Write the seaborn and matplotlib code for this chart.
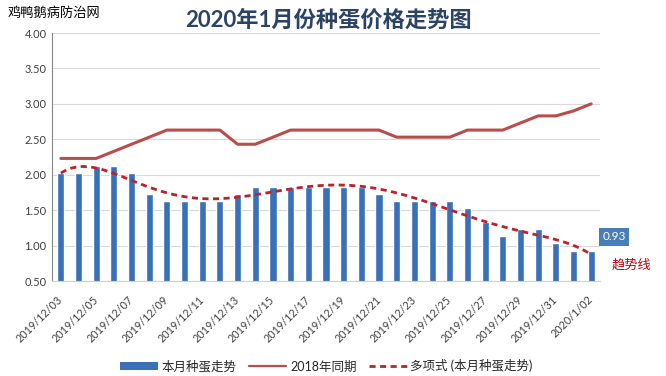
import numpy as np
import matplotlib
matplotlib.use('Agg')
import matplotlib.pyplot as plt
import seaborn as sns
from matplotlib.patches import Patch
from matplotlib.lines import Line2D

# data
dates = ['2019/12/03', '2019/12/04', '2019/12/05', '2019/12/06', '2019/12/07', '2019/12/08',
         '2019/12/09', '2019/12/10', '2019/12/11', '2019/12/12', '2019/12/13', '2019/12/14',
         '2019/12/15', '2019/12/16', '2019/12/17', '2019/12/18', '2019/12/19', '2019/12/20',
         '2019/12/21', '2019/12/22', '2019/12/23', '2019/12/24', '2019/12/25', '2019/12/26',
         '2019/12/27', '2019/12/28', '2019/12/29', '2019/12/30', '2019/12/31', '2020/1/01',
         '2020/1/02']
price_this_month = [2.03, 2.03, 2.13, 2.13, 2.03, 1.73, 1.63, 1.63, 1.63, 1.63, 1.73, 1.83,
                    1.83, 1.83, 1.83, 1.83, 1.83, 1.83, 1.73, 1.63, 1.63, 1.63, 1.63, 1.53,
                    1.33, 1.13, 1.23, 1.23, 1.03, 0.93, 0.93]
price_2018 = [2.23, 2.23, 2.23, 2.33, 2.43, 2.53, 2.63, 2.63, 2.63, 2.63, 2.43, 2.43,
              2.53, 2.63, 2.63, 2.63, 2.63, 2.63, 2.63, 2.53, 2.53, 2.53, 2.53, 2.63,
              2.63, 2.63, 2.73, 2.83, 2.83, 2.90, 3.00]

sns.set_style('white')
plt.rcParams['font.family'] = ['Lato', 'Noto Sans CJK SC', 'DejaVu Sans']

bar_color = '#3A70B8'
line_color = '#B84D4A'
trend_color = '#C0202A'
text_color = '#404040'

fig, ax = plt.subplots(figsize=(6.66, 3.76), dpi=100)
fig.subplots_adjust(left=52/666, right=600/666, top=1-33/376, bottom=1-281/376)

x = np.arange(len(dates))
sns.barplot(x=x, y=price_this_month, color=bar_color, width=0.4, saturation=1, ax=ax, zorder=2)
sns.lineplot(x=x, y=price_2018, color=line_color, lw=2.2, ax=ax, zorder=3)
# Excel polynomial trendline of this month's prices
sns.regplot(x=x, y=price_this_month, order=6, ci=None, scatter=False, truncate=True, ax=ax,
            line_kws=dict(color=trend_color, lw=2, dashes=(2.2, 1.6), zorder=4))

ax.set_xlim(-0.5, len(dates) - 0.5)
ax.set_ylim(0.5, 4.0)
ax.set_yticks(np.arange(0.5, 4.01, 0.5))
ax.set_yticklabels([f'{v:.2f}' for v in np.arange(0.5, 4.01, 0.5)], fontsize=8, color=text_color)
ax.set_xticks(x[::2])
ax.set_xticklabels(dates[::2], fontsize=7.8, color=text_color, rotation=45,
                   ha='right', va='center', rotation_mode='anchor')
ax.tick_params(axis='both', length=0, pad=4)
ax.tick_params(axis='x', pad=12)
ax.set_xlabel('')
ax.set_ylabel('')
ax.grid(axis='y', color='#D9D9D9', lw=0.8, zorder=0)
ax.set_axisbelow(True)
for s in ['top', 'right']:
    ax.spines[s].set_visible(False)
ax.spines['left'].set_color('#868686')
ax.spines['bottom'].set_color('#D0D0D0')

# value label on last bar
ax.annotate(f'{price_this_month[-1]:.2f}', xy=(x[-1], price_this_month[-1]), xytext=(8, 6),
            textcoords='offset points', fontsize=8.5, color='white', va='bottom', ha='left',
            bbox=dict(boxstyle='square,pad=0.3', fc='#4A7EBB', ec='none'), annotation_clip=False)
ax.annotate('趋势线', xy=(x[-1], price_this_month[-1]), xytext=(15, -10),
            textcoords='offset points', fontsize=9.5, color='#C00000', va='center', ha='left',
            annotation_clip=False)

fig.text(0.012, 0.967, '鸡鸭鹅病防治网', fontsize=9.5, color='black', va='center', ha='left')
fig.text(0.493, 0.947, '2020年1月份种蛋价格走势图', fontsize=16, fontweight='bold',
         color='#2B4466', va='center', ha='center')

handles = [Patch(facecolor=bar_color, edgecolor='none'),
           Line2D([], [], color=line_color, lw=1.6),
           Line2D([], [], color=trend_color, lw=2, dashes=(2.2, 1.6))]
labels = ['本月种蛋走势', '2018年同期', '多项式 (本月种蛋走势)']
fig.legend(handles, labels, loc='center', bbox_to_anchor=(0.49, 1-366/376), ncol=3,
           frameon=False, fontsize=9, handlelength=3.0, handleheight=0.55,
           columnspacing=1.0, handletextpad=0.3)

fig.savefig('out.png', dpi=100)
